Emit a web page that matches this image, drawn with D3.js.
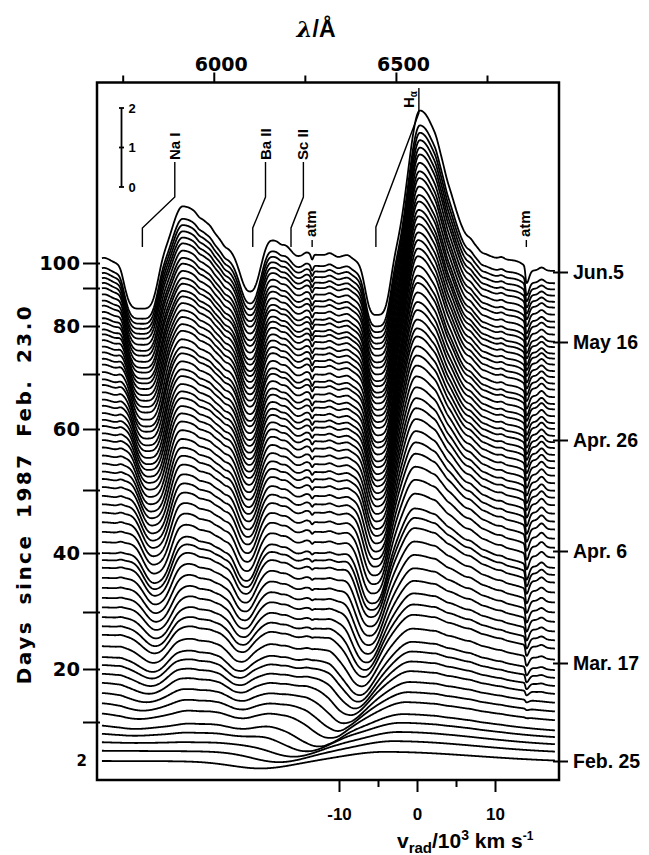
<!DOCTYPE html>
<html>
<head>
<meta charset="utf-8">
<title>SN 1987A spectral evolution</title>
<script src="https://cdn.jsdelivr.net/npm/d3@7"></script>
<style>
  html, body { margin: 0; padding: 0; background: #fff; }
  svg { display: block; }
</style>
</head>
<body>
<svg id="chart" width="649" height="855"></svg>
<script>
// Epoch of each spectrum, days since 1987 Feb 23.0 (bottom to top)
const days = [2.0, 4.1, 5.9, 7.7, 9.4, 11.7, 13.6, 15.5, 17.4, 19.1, 20.7, 22.1, 24.0, 26.0,
  27.5, 29.1, 30.8, 32.4, 34.1, 35.8, 37.5, 38.8, 40.0, 41.7, 43.3, 44.8, 46.3, 47.6, 48.9,
  50.3, 51.6, 52.8, 54.1, 55.4, 56.7, 57.9, 59.0, 60.2, 61.3, 62.5, 63.8, 64.9, 66.2, 67.5,
  68.5, 69.8, 71.3, 72.5, 73.8, 75.0, 76.3, 77.5, 78.5, 79.8, 81.0, 82.6, 84.2, 85.5, 87.1,
  88.7, 90.0, 92.0, 94.0, 96.0, 100.0];

// Epochs at which the line parameters are tabulated
const keyDays = [2, 5, 10, 15, 20, 30, 40, 50, 60, 70, 80, 90, 100];

// H-alpha emission: peak height (flux units), peak wavelength (A), blue / red widths (A)
const haEmAmp   = [0.25, 0.30, 0.41, 0.46, 0.56, 0.89, 1.39, 2.03, 2.66, 3.16, 3.54, 3.80, 4.00];
const haEmPeak  = [6470, 6506, 6525, 6539, 6544, 6550, 6552, 6555, 6558, 6560, 6563, 6566, 6566];
const haEmBlue  = [110, 88, 69, 55, 47, 41, 38, 36, 36, 33, 33, 33, 33];
const haEmRed   = [247, 220, 198, 178, 159, 132, 110, 93, 82, 77, 74, 71, 71];
// H-alpha absorption trough: minimum (A), depth (flux units), width (A), flatness
const haAbsMin   = [6130, 6200, 6300, 6355, 6390, 6420, 6437, 6451, 6456, 6456, 6453, 6451, 6450];
const haAbsDepth = [0.18, 0.30, 0.51, 0.66, 0.76, 0.96, 1.06, 1.16, 1.20, 1.20, 1.20, 1.20, 1.20];
const haAbsWidth = [82, 71, 55, 47, 41, 36, 33, 31, 31, 31, 31, 31, 31];
const haAbsPow   = [2, 2, 2, 2, 2, 2.4, 2.8, 3, 3.2, 3.4, 3.5, 3.6, 3.6];

// Na I D emission and absorption
const naEmAmp    = [0, 0, 0.08, 0.15, 0.23, 0.38, 0.51, 0.68, 0.84, 1.01, 1.19, 1.34, 1.47];
const naEmPeak   = [5915, 5915, 5934, 5920, 5902, 5907, 5907, 5910, 5912, 5913, 5915, 5915, 5915];
const naEmRed    = [110, 110, 110, 99, 93, 88, 82, 82, 80, 80, 80, 80, 80];
const naAbsMin   = [5770, 5770, 5784, 5811, 5833, 5852, 5847, 5839, 5826, 5816, 5806, 5801, 5800];
const naAbsDepth = [0, 0, 0.10, 0.20, 0.30, 0.56, 0.76, 0.92, 1.02, 1.08, 1.11, 1.13, 1.14];
const naAbsWidth = [55, 55, 49, 44, 41, 38, 37, 37, 38, 39, 40, 41, 42];
const naAbsPow   = [2, 2, 2, 2, 2, 2.4, 2.8, 3, 3.3, 3.6, 3.8, 4, 4.2];

// Ba II 6142 emission and absorption
const baEmAmp    = [0, 0, 0.05, 0.08, 0.13, 0.25, 0.35, 0.43, 0.51, 0.56, 0.61, 0.63, 0.63];
const baAbsMin   = [6072, 6072, 6072, 6072, 6066, 6080, 6088, 6094, 6097, 6099, 6099, 6099, 6099];
const baAbsDepth = [0, 0, 0.08, 0.15, 0.25, 0.46, 0.63, 0.76, 0.84, 0.89, 0.89, 0.84, 0.78];
const baAbsWidth = [33, 33, 30, 28, 27, 26, 25, 25, 25, 25, 25, 25, 25];

// Sc II absorption, Fe II blend between Sc II and H-alpha, red shoulder of H-alpha
const scAbsDepth = [0, 0, 0, 0, 0.03, 0.05, 0.08, 0.10, 0.13, 0.13, 0.13, 0.13, 0.13];
const blendAmp   = [0, 0, 0.03, 0.05, 0.08, 0.13, 0.18, 0.23, 0.25, 0.28, 0.30, 0.30, 0.30];
const shelfAmp   = [0, 0, 0, 0, 0, 0.05, 0.10, 0.15, 0.20, 0.23, 0.25, 0.25, 0.25];
const blueEdgeAmp = [0, 0, 0, 0, 0, 0, 0, 0.03, 0.05, 0.08, 0.10, 0.13, 0.13];
const redBumpAmp = [0, 0, 0, 0, 0.04, 0.08, 0.12, 0.15, 0.15, 0.14, 0.12, 0.10, 0.08];
// continuum at the red end relative to the blue end
const contDrop   = [-0.03, -0.08, -0.20, -0.28, -0.35, -0.38, -0.38, -0.43, -0.51, -0.56, -0.51, -0.35, -0.20];
// telluric bands
const atmDepthA  = [0, 0, 0, 0, 0, 0.03, 0.05, 0.08, 0.10, 0.13, 0.13, 0.13, 0.13];
const atmDepthB  = [0, 0, 0, 0.05, 0.18, 0.33, 0.38, 0.40, 0.40, 0.40, 0.40, 0.40, 0.40];

// weak metal lines: wavelength (A) and strength relative to the blend (+ emission, - absorption)
const weakLam = [5745, 5960, 5990, 6030, 6185, 6255, 6318, 6342, 6368, 6610, 6640, 6705, 6735, 6790];
const weakStr = [0.05, -0.05, 0.04, -0.05, -0.05, 0.05, 0.05, -0.04, 0.04, 0.06, -0.05, 0.05, -0.04, 0.05];

// rest wavelengths (A)
const restHa = 6563;
const atmBands = [6270, 6858];
const redBumpLam = 6900;

// line identifications: label, rest wavelength, wavelength of the marked absorption
const idNames = ["Na I", "Ba II", "Sc II"];
const idRest  = [5893, 6142, 6246];
const idAbs   = [5804, 6107, 6212];
const haMark  = 6445;

// axis ticks
const lambdaMajor = [6000, 6500];
const lambdaMinor = [5750, 6250, 6750];
const velMajor = [-10, 0, 10];
const velMinor = [-5, 5];
const dayTicks = [2, 10, 20, 30, 40, 50, 60, 70, 80, 90, 100];
const dayLabelled = [20, 40, 60, 80, 100];
const dayPlain = [10, 30, 50, 70, 90];
const dateNames = ["Feb. 25", "Mar. 17", "Apr. 6", "Apr. 26", "May 16", "Jun.5"];
const dateDays = [2, 22, 42, 62, 82, 102];
const scaleTicks = [0, 1, 2];

// ---------------------------------------------------------------- layout
const frame = { left: 97, right: 559, top: 82.5, bottom: 780 };
const svg = d3.select("#chart");
const SANS = "'Liberation Sans', Arial, sans-serif";
const WIDE = "'DejaVu Sans', sans-serif";

const x = d3.scaleLinear().domain([5750, 6750]).range([122.7, 487]);
const xv = d3.scaleLinear().domain([-10, 10]).range([339, 495]);
const yDay = d3.scaleLinear().domain(dayTicks)
  .range([761, 722, 669, 612, 553, 490, 429, 374, 326, 288, 263]);
const yDate = d3.scaleLinear().domain(dateDays).range([761, 663, 551, 440, 342, 272]);
const fluxPx = d3.scaleLinear().domain([0, 2]).range([0, 79]);

// ---------------------------------------------------------------- spectra
const param = arr => d3.scaleLinear().domain(keyDays).range(arr).clamp(true);
const tables = {
  haEmAmp, haEmPeak, haEmBlue, haEmRed, haAbsMin, haAbsDepth, haAbsWidth, haAbsPow,
  naEmAmp, naEmPeak, naEmRed, naAbsMin, naAbsDepth, naAbsWidth, naAbsPow,
  baEmAmp, baAbsMin, baAbsDepth, baAbsWidth,
  scAbsDepth, blendAmp, shelfAmp, blueEdgeAmp, redBumpAmp, contDrop, atmDepthA, atmDepthB
};
const P = {};
for (const k in tables) P[k] = param(tables[k]);

const lamStart = 5693, lamEnd = 6937;
const lambdaGrid = d3.range(lamStart, lamEnd + 0.1, 1.5);

const shape = (l, c, s, pw) => Math.exp(-0.5 * Math.pow(Math.abs(l - c) / s, pw));
const skew = (l, c, sb, sr) => shape(l, c, l < c ? sb : sr, 2);

function spectrum(day) {
  const p = {};
  for (const k in P) p[k] = P[k](day);
  const weak = p.blendAmp / 0.3;
  return lambdaGrid.map(l => {
    let f = p.contDrop * (l - lamStart) / (lamEnd - lamStart);
    f += p.haEmAmp * skew(l, p.haEmPeak, p.haEmBlue, p.haEmRed);
    f -= p.haAbsDepth * shape(l, p.haAbsMin, p.haAbsWidth, p.haAbsPow);
    f += p.naEmAmp * skew(l, p.naEmPeak, 30, p.naEmRed);
    f -= p.naAbsDepth * shape(l, p.naAbsMin, p.naAbsWidth, p.naAbsPow);
    f += p.baEmAmp * skew(l, 6157, 22, 38);
    f -= p.baAbsDepth * shape(l, p.baAbsMin, p.baAbsWidth, 2.5);
    f -= p.scAbsDepth * shape(l, 6226, 14, 2);
    f += p.blendAmp * shape(l, 6292, 96, 6);
    f += p.shelfAmp * shape(l, 6777, 71, 6);
    f += p.blueEdgeAmp * shape(l, 5699, 16, 2);
    f += p.redBumpAmp * shape(l, redBumpLam, 8, 2);
    for (let i = 0; i < weakLam.length; i++) f += weak * weakStr[i] * shape(l, weakLam[i], 7, 2);
    f -= p.atmDepthA * shape(l, atmBands[0], 3, 2);
    f -= p.atmDepthB * skew(l, atmBands[1], 2.5, 7);
    return [l, f];
  });
}

const line = d3.line().curve(d3.curveLinear);
svg.append("g").attr("class", "spectra")
  .selectAll("path").data(days).join("path")
  .attr("d", d => line(spectrum(d).map(([l, f]) => [x(l), yDay(d) - fluxPx(f)])))
  .attr("fill", "none").attr("stroke", "#000").attr("stroke-width", 1.8)
  .attr("stroke-linejoin", "round");

// ---------------------------------------------------------------- frame and axes
svg.append("rect")
  .attr("x", frame.left).attr("y", frame.top)
  .attr("width", frame.right - frame.left).attr("height", frame.bottom - frame.top)
  .attr("fill", "none").attr("stroke", "#000").attr("stroke-width", 2.5);

function styleAxis(g, family, size) {
  g.select(".domain").remove();
  g.selectAll(".tick line").attr("stroke", "#000").attr("stroke-width", 2);
  g.selectAll(".tick text").attr("fill", "#000")
    .style("font-family", family).style("font-weight", "bold").style("font-size", size + "px");
}

// wavelength axis (top)
svg.append("g").attr("transform", `translate(0,${frame.top})`)
  .call(d3.axisTop(x).tickValues(lambdaMajor).tickSize(10).tickPadding(1.5).tickFormat(d3.format("d")))
  .call(g => styleAxis(g, WIDE, 19))
  .call(g => g.selectAll(".tick text").attr("dx", 7));
svg.append("g").attr("transform", `translate(0,${frame.top})`)
  .call(d3.axisTop(x).tickValues(lambdaMinor).tickSize(7).tickFormat(""))
  .call(g => styleAxis(g, WIDE, 19));

// velocity axis (bottom)
svg.append("g").attr("transform", `translate(0,${frame.bottom})`)
  .call(d3.axisBottom(xv).tickValues(velMajor).tickSize(12).tickPadding(16).tickFormat(d => String(d)))
  .call(g => styleAxis(g, SANS, 17));
svg.append("g").attr("transform", `translate(0,${frame.bottom})`)
  .call(d3.axisBottom(xv).tickValues(velMinor).tickSize(7).tickFormat(""))
  .call(g => styleAxis(g, SANS, 17));

// days axis (left)
svg.append("g").attr("transform", `translate(${frame.left + 3},0)`)
  .call(d3.axisLeft(yDay).tickValues(dayLabelled).tickSize(17).tickPadding(3).tickFormat(d3.format("d")))
  .call(g => styleAxis(g, WIDE, 19.5));
svg.append("g").attr("transform", `translate(${frame.left + 3},0)`)
  .call(d3.axisLeft(yDay).tickValues(dayPlain).tickSize(17).tickFormat(""))
  .call(g => styleAxis(g, WIDE, 19.5));
svg.append("text").attr("x", 87).attr("y", yDay(2)).attr("dy", "0.36em")
  .attr("text-anchor", "end").style("font-family", WIDE).style("font-weight", "bold")
  .style("font-size", "15px").text("2");

// calendar dates (right)
svg.append("g").attr("transform", `translate(${frame.right - 6},0)`)
  .call(d3.axisRight(yDate).tickValues(dateDays).tickSize(15).tickPadding(5)
    .tickFormat((d, i) => dateNames[i]))
  .call(g => styleAxis(g, SANS, 19.5));

// axis titles
const lt = svg.append("text").attr("x", 316).attr("y", 37).attr("text-anchor", "middle")
  .style("font-family", SANS).style("font-weight", "bold").style("font-size", "23px");
lt.append("tspan").style("font-family", "'DejaVu Serif', serif").style("font-style", "italic").text("λ");
lt.append("tspan").text("/Å");

svg.append("text")
  .attr("transform", `translate(31,494) rotate(-90)`).attr("text-anchor", "middle")
  .style("font-family", WIDE).style("font-weight", "bold").style("font-size", "20px")
  .style("letter-spacing", "2.5px").style("word-spacing", "6px")
  .text("Days since 1987 Feb. 23.0");

const bt = svg.append("text").attr("x", 397).attr("y", 848)
  .style("font-family", SANS).style("font-weight", "bold").style("font-size", "21px");
bt.append("tspan").text("v");
bt.append("tspan").attr("dy", 5).style("font-size", "15px").text("rad");
bt.append("tspan").attr("dy", -5).text("/10");
bt.append("tspan").attr("dy", -8).style("font-size", "14px").text("3");
bt.append("tspan").attr("dy", 8).text(" km s");
bt.append("tspan").attr("dy", -8).style("font-size", "12px").text("-1");

// ---------------------------------------------------------------- flux scale bar
const sb = svg.append("g").attr("transform", `translate(121.5,187)`);
sb.append("line").attr("y1", 0).attr("y2", -fluxPx(2)).attr("stroke", "#000").attr("stroke-width", 1.8);
sb.selectAll("line.cap").data(scaleTicks).join("line").attr("class", "cap")
  .attr("x1", -2.5).attr("x2", 2.5).attr("y1", d => -fluxPx(d)).attr("y2", d => -fluxPx(d))
  .attr("stroke", "#000").attr("stroke-width", 1.8);
sb.selectAll("text").data(scaleTicks).join("text")
  .attr("x", 7).attr("y", d => -fluxPx(d)).attr("dy", "0.36em")
  .style("font-family", SANS).style("font-weight", "bold").style("font-size", "13px")
  .text(d => d);

// ---------------------------------------------------------------- line identifications
const ids = svg.append("g").attr("fill", "none").attr("stroke", "#000").attr("stroke-width", 1.4);
idNames.forEach((name, i) => {
  const xr = x(idRest[i]), xa = x(idAbs[i]);
  ids.append("path").attr("d", `M${xr},162V197L${xa},228V247`);
  svg.append("text").attr("transform", `translate(${xr + 5},160) rotate(-90)`)
    .style("font-family", SANS).style("font-weight", "bold").style("font-size", "15px")
    .text(name);
});
// H alpha
ids.append("path").attr("d", `M${x(restHa)},88V113L${x(haMark)},227V247`);
const ha = svg.append("text").attr("transform", `translate(${x(restHa) - 5},108) rotate(-90)`)
  .style("font-family", SANS).style("font-weight", "bold").style("font-size", "15px");
ha.append("tspan").text("H");
ha.append("tspan").attr("dy", 3).style("font-size", "10px").text("α");
// telluric bands
atmBands.forEach(l => {
  ids.append("path").attr("d", `M${x(l)},240V247`);
  svg.append("text").attr("transform", `translate(${x(l) + 4},237) rotate(-90)`)
    .style("font-family", SANS).style("font-weight", "bold").style("font-size", "15px")
    .text("atm");
});
</script>
</body>
</html>
